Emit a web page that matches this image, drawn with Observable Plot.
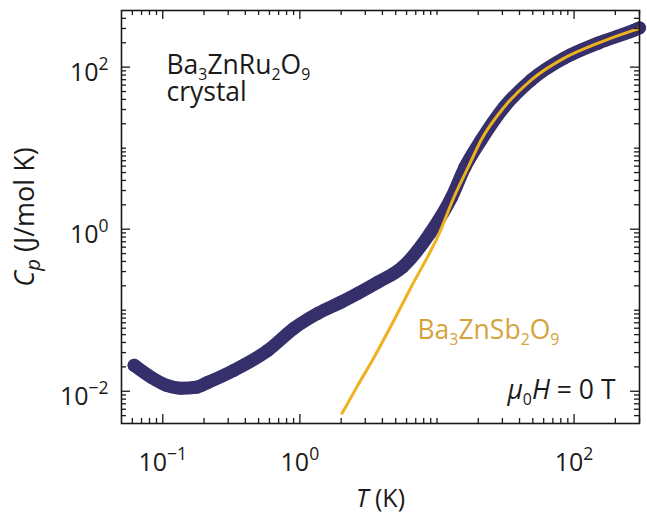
<!DOCTYPE html>
<html><head><meta charset="utf-8">
<script src="https://cdn.jsdelivr.net/npm/d3@7"></script>
<script src="https://cdn.jsdelivr.net/npm/@observablehq/plot@0.6"></script>
<style>body{margin:0;background:#fff}</style>
</head><body><div id="chart"></div>
<script>
// Ba3ZnRu2O9 crystal, mu0H = 0 T
const ruT  = [0.0618, 0.0822, 0.1057, 0.136, 0.175, 0.214, 0.331, 0.586, 0.907, 1.36, 2.0, 2.66, 3.71, 5.63, 8.91, 12.8, 16.0, 21.0, 30.9, 48.6, 84.6, 150, 274, 300];
const ruCp = [0.0209, 0.0149, 0.0119, 0.0109, 0.0112, 0.0129, 0.0182, 0.0321, 0.060, 0.092, 0.126, 0.162, 0.222, 0.343, 0.893, 2.48, 5.82, 12.6, 32.1, 69.2, 129, 198, 286, 305];
// Ba3ZnSb2O9 (lattice reference)
const sbT  = [2.03, 2.65, 3.48, 4.86, 6.47, 10.4, 13.3, 16.9, 21.0, 30.9, 48.6, 84.6, 150, 274, 292];
const sbCp = [0.00535, 0.0119, 0.0263, 0.0753, 0.192, 0.893, 2.48, 5.82, 12.6, 32.1, 69.2, 129, 198, 286, 296];

const xMajor = [0.1, 1, 100];
const xMinor = [0.06, 0.07, 0.08, 0.09, 0.2, 0.3, 0.4, 0.5, 0.6, 0.7, 0.8, 0.9, 2, 3, 4, 5, 6, 7, 8, 9, 10, 20, 30, 40, 50, 60, 70, 80, 90, 200, 300];
const yMajor = [0.01, 1, 100];
const yMinor = [0.005, 0.006, 0.007, 0.008, 0.009, 0.02, 0.03, 0.04, 0.05, 0.06, 0.07, 0.08, 0.09, 0.1, 0.2, 0.3, 0.4, 0.5, 0.6, 0.7, 0.8, 0.9, 2, 3, 4, 5, 6, 7, 8, 9, 10, 20, 30, 40, 50, 60, 70, 80, 90, 200, 300, 400];
const xTickLabels = ["10^{−1}", "10^{0}", "10^{2}"];
const yTickLabels = ["10^{−2}", "10^{0}", "10^{2}"];

const texts = {
  sample: "Ba_{3}ZnRu_{2}O_{9}",
  form: "crystal",
  ref: "Ba_{3}ZnSb_{2}O_{9}",
  field: "*μ*_{0}*H* = 0 T",
  xlabel: "*T* (K)",
  ylabel: "*C*_{*p*} (J/mol K)"
};

const navy = "#35306c", gold = "#efb21f", goldText = "#d6a23a", ink = "#1a1a1a";
const FT = 25, FA = 26.5, FONT = "Open Sans";
const W = 647, H = 512, mL = 121, mR = 8, mT = 10, mB = 89;
const pw = W - mL - mR, ph = H - mT - mB;
const majL = 9, minL = 5;

const ru = ruT.map((T, i) => ({T, Cp: ruCp[i]}));
const sb = sbT.map((T, i) => ({T, Cp: sbCp[i]}));

const tickStyle = {stroke: ink, strokeWidth: 1.3};
const svg = Plot.plot({
  width: W, height: H,
  marginLeft: mL, marginRight: mR, marginTop: mT, marginBottom: mB,
  style: {fontFamily: FONT, fontSize: FT + "px", color: ink, background: "#fff"},
  x: {type: "log", domain: [0.05, 300]},
  y: {type: "log", domain: [0.004, 500]},
  marks: [
    Plot.line(ru, {x: "T", y: "Cp", stroke: navy, strokeWidth: 13, strokeLinecap: "round", strokeLinejoin: "round", curve: "monotone-x"}),
    Plot.dot(ru, {x: "T", y: "Cp", r: 6.5, fill: navy}),
    Plot.line(sb, {x: "T", y: "Cp", stroke: gold, strokeWidth: 3, curve: "monotone-x"}),
    // inward ticks on all four sides
    Plot.tickX(xMajor, {x: d => d, insetTop: ph - majL, ...tickStyle}),
    Plot.tickX(xMinor, {x: d => d, insetTop: ph - minL, ...tickStyle}),
    Plot.tickX(xMajor, {x: d => d, insetBottom: ph - majL, ...tickStyle}),
    Plot.tickX(xMinor, {x: d => d, insetBottom: ph - minL, ...tickStyle}),
    Plot.tickY(yMajor, {y: d => d, insetRight: pw - majL, ...tickStyle}),
    Plot.tickY(yMinor, {y: d => d, insetRight: pw - minL, ...tickStyle}),
    Plot.tickY(yMajor, {y: d => d, insetLeft: pw - majL, ...tickStyle}),
    Plot.tickY(yMinor, {y: d => d, insetLeft: pw - minL, ...tickStyle}),
    Plot.frame({stroke: ink, strokeWidth: 1.6}),
    Plot.axisX(xMajor, {anchor: "bottom", tickSize: 0, tickPadding: 30, fontSize: FT, fill: ink,
      tickFormat: d => xTickLabels[xMajor.indexOf(d)], label: null}),
    Plot.axisY(yMajor, {anchor: "left", tickSize: 0, tickPadding: 13, dy: 6, fontSize: FT, fill: ink,
      tickFormat: d => yTickLabels[yMajor.indexOf(d)], label: null}),
    Plot.text([texts.sample], {frameAnchor: "top-left", dx: 45, dy: 63, textAnchor: "start", lineAnchor: "bottom", fontSize: FA, fill: ink}),
    Plot.text([texts.form], {frameAnchor: "top-left", dx: 45, dy: 90, textAnchor: "start", lineAnchor: "bottom", fontSize: FA, fill: ink}),
    Plot.text([texts.ref], {frameAnchor: "top-left", dx: 296, dy: 328, textAnchor: "start", lineAnchor: "bottom", fontSize: FA, fill: goldText}),
    Plot.text([texts.field], {frameAnchor: "bottom-right", dx: -24, dy: -25, textAnchor: "end", lineAnchor: "bottom", fontSize: FA, fill: ink}),
    Plot.text([texts.xlabel], {frameAnchor: "bottom", dy: 83, textAnchor: "middle", lineAnchor: "bottom", fontSize: FT, fill: ink}),
    Plot.text([texts.ylabel], {frameAnchor: "left", dx: -88, rotate: -90, textAnchor: "middle", lineAnchor: "bottom", fontSize: 27, fill: ink})
  ]
});
document.getElementById("chart").appendChild(svg);

// rich text: _{sub}, ^{sup}, *italic*
function rich(el, str) {
  const fs = parseFloat(getComputedStyle(el).fontSize) || FT;
  const re = /_\{([^}]*)\}|\^\{([^}]*)\}|\*([^*]*)\*|([^_^*]+)/g;
  let m, cur = 0;
  el.textContent = "";
  while ((m = re.exec(str))) {
    let txt, off = 0, size = null, italic = false;
    if (m[1] !== undefined) { txt = m[1]; off = 0.24 * fs; size = 0.6 * fs; }
    else if (m[2] !== undefined) { txt = m[2]; off = -0.46 * fs; size = 0.7 * fs; }
    else if (m[3] !== undefined) { txt = m[3]; italic = true; }
    else txt = m[4];
    if (/^\*.*\*$/.test(txt)) { txt = txt.slice(1, -1); italic = true; size = 0.75 * fs; }
    const ts = document.createElementNS("http://www.w3.org/2000/svg", "tspan");
    if (off - cur !== 0) ts.setAttribute("dy", (off - cur) + "px");
    cur = off;
    if (size) ts.setAttribute("font-size", size + "px");
    if (italic) ts.setAttribute("font-style", "italic");
    ts.textContent = txt;
    el.appendChild(ts);
  }
}
d3.select(svg).selectAll("text").each(function () {
  const t = this.textContent;
  if (/[_^*]/.test(t)) rich(this, t);
});
</script>
</body></html>
